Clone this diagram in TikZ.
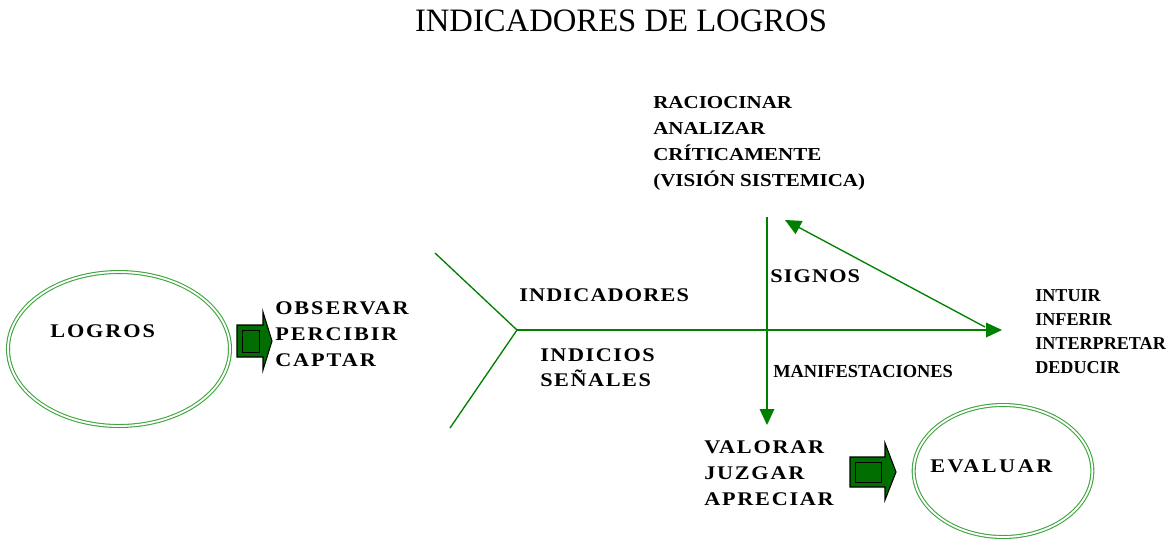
\documentclass[tikz,border=0pt]{standalone}
\usepackage{fontspec}
\setmainfont{Liberation Serif}
\usetikzlibrary{arrows.meta,shapes.geometric}
\definecolor{gline}{RGB}{0,128,0}
\definecolor{gell}{RGB}{60,165,60}
\definecolor{gdark}{RGB}{0,110,0}
\newcommand{\spc}[1]{\bfseries\fontsize{14.5}{19.5}\selectfont\addfontfeature{FakeStretch=1.15,LetterSpace=#1}}
\tikzset{
  lbl/.style={anchor=west,inner sep=0pt,align=left,font=\bfseries\fontsize{14.5}{19.5}\selectfont},
  spaced/.style={lbl,font=\spc{6}},
  tight/.style={lbl,font=\bfseries\fontsize{13.7}{19.5}\selectfont},
  gl/.style={draw=gline,line width=1pt},
  garrow/.style={gl,-{Triangle[length=12pt,width=11pt]}},
  ell/.style={draw=gell,ellipse,double,double distance=1.4pt,line width=0.8pt,inner sep=0pt},
  blockarrow/.style={fill=gdark,draw=black,line width=0.8pt},
}
\begin{document}
\begin{tikzpicture}[x=0.75pt,y=-0.75pt]
\useasboundingbox (0,0) rectangle (1176,540);
% title
\node[inner sep=0pt,font=\fontsize{24.5}{28}\selectfont] (title) at (621,21) {INDICADORES DE LOGROS};
% ellipses
\node[ell,minimum width=166.5pt,minimum height=115.5pt] (logros) at (119,349) {};
\node[ell,minimum width=134pt,minimum height=99pt] (evaluar) at (1003,471) {};
\node[spaced,font=\spc{10}] (tlogros) at (50,331) {LOGROS};
\node[spaced,font=\spc{13}] (tevaluar) at (930,466) {EVALUAR};
% block arrows
\path[blockarrow] (237,325) -- (263,325) -- (263,312) -- (272,341) -- (263,370) -- (263,357) -- (237,357) -- cycle;
\draw[black,line width=0.6pt] (242,330) rectangle (259,352);
\path[blockarrow] (850,457) -- (885,457) -- (885,443) -- (896,472) -- (885,500) -- (885,487) -- (850,487) -- cycle;
\draw[black,line width=0.6pt] (855,462) rectangle (881,482);
% texts
\node[spaced,font=\spc{10}] (obs) at (275,334) {OBSERVAR\\PERCIBIR\\CAPTAR};
\node[spaced] (indic) at (519,295) {INDICADORES};
\node[spaced,font=\spc{8}\fontsize{14.5}{18.8}\selectfont] (indicios) at (540,368) {INDICIOS\\SEÑALES};
\node[spaced] (signos) at (770,276) {SIGNOS};
\node[tight,font=\bfseries\fontsize{13.8}{19.5}\selectfont] (manif) at (773,371) {MANIFESTACIONES};
\node[tight,font=\bfseries\fontsize{13.7}{19.5}\selectfont\addfontfeature{FakeStretch=1.15}] (racio) at (653,143) {RACIOCINAR\\ANALIZAR\\CRÍTICAMENTE\\(VISIÓN SISTEMICA)};
\node[tight,font=\bfseries\fontsize{13.6}{18}\selectfont] (intuir) at (1035,332) {INTUIR\\INFERIR\\INTERPRETAR\\DEDUCIR};
\node[spaced,font=\spc{9}] (valorar) at (704,473) {VALORAR\\JUZGAR\\APRECIAR};
% fishbone connectors
\coordinate (t1) at (435,253);
\coordinate (v) at (517,330);
\coordinate (t2) at (450,428);
\coordinate (h) at (1002,330);
\coordinate (vt) at (767,217);
\coordinate (vb) at (767,425);
\coordinate (d1) at (985,327);
\coordinate (d2) at (785,220);
\draw[gl] (t1) -- (v) -- (t2);
\draw[garrow] (v) -- (h);
\draw[garrow] (vt) -- (vb);
\draw[garrow] (d1) -- (d2);
\end{tikzpicture}
\end{document}
